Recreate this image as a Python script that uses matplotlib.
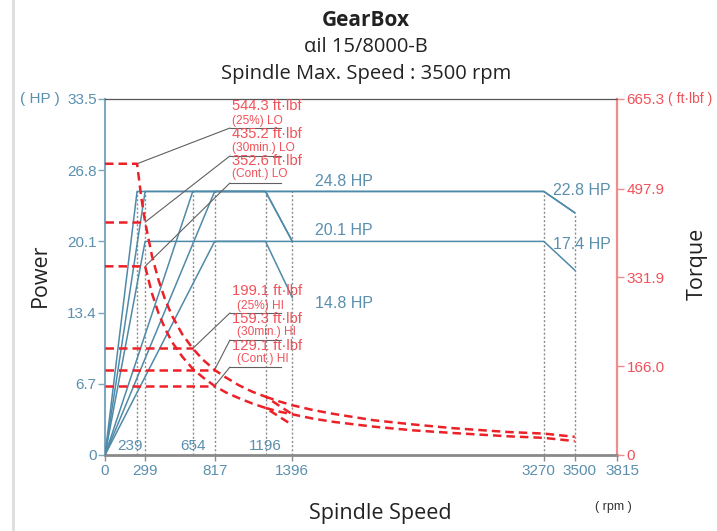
import matplotlib
matplotlib.use("Agg")
import matplotlib.pyplot as plt
import matplotlib.transforms as mtransforms
from matplotlib.lines import Line2D

# ---- data ----
x_ticks = [0, 299, 817, 1396, 3270, 3500, 3815]
x_ticks_inner = [239, 654, 1196]
power_ticks = [0, 6.7, 13.4, 20.1, 26.8, 33.5]
torque_ticks = [0, 166.0, 331.9, 497.9, 665.3]

# power curves (rpm, HP)
lo_25_rpm = [0, 239, 1196, 1396]
lo_25_hp = [0, 24.8, 24.8, 20.1]
lo_30_rpm = [0, 299, 1196, 1396]
lo_30_hp = [0, 24.8, 24.8, 20.1]
lo_cont_rpm = [0, 299, 1196, 1396]
lo_cont_hp = [0, 20.1, 20.1, 14.8]
hi_25_rpm = [0, 654, 3270, 3500]
hi_25_hp = [0, 24.8, 24.8, 22.8]
hi_30_rpm = [0, 817, 3270, 3500]
hi_30_hp = [0, 24.8, 24.8, 22.8]
hi_cont_rpm = [0, 817, 3270, 3500]
hi_cont_hp = [0, 20.1, 20.1, 17.4]

# torque curves (rpm, ft-lbf); LO and HI share the same curve up to 1196 rpm
lo_25_t_rpm = [0, 239, 270, 299, 350, 400, 450, 500, 575, 654, 730, 817, 900, 1000, 1100, 1196, 1396]
lo_25_t = [544.3, 544.3, 482, 435.2, 372, 326, 289, 260, 226, 199, 178, 159, 145, 130, 118, 109, 76]
lo_30_t_rpm = [0, 299]
lo_30_t = [435.2, 435.2]
lo_cont_t_rpm = [0, 299, 350, 400, 450, 500, 575, 654, 730, 817, 900, 1000, 1100, 1196, 1396]
lo_cont_t = [352.6, 352.6, 302, 264, 235, 211, 184, 161, 145, 129, 117, 106, 96, 88, 56]
hi_25_t_rpm = [0, 654]
hi_25_t = [199.1, 199.1]
hi_30_t_rpm = [0, 817]
hi_30_t = [159.3, 159.3]
hi_cont_t_rpm = [0, 817]
hi_cont_t = [129.1, 129.1]
hi_tail_rpm = [1196, 1300, 1396, 1550, 1700, 2000, 2300, 2600, 3000, 3270, 3500]
hi_tail_t = [109, 100, 93, 84, 77, 65, 57, 50, 43, 40, 34]
hi_cont_tail_rpm = [1196, 1300, 1396, 1550, 1700, 2000, 2300, 2600, 3000, 3270, 3500]
hi_cont_tail_t = [88, 81, 76, 68, 62, 53, 46, 41, 35, 32, 26]

# dotted guide lines (rpm, HP top)
guide_rpm = [239, 299, 654, 817, 1196, 1396, 3270, 3500]
guide_hp = [24.8, 24.8, 24.8, 24.8, 24.8, 24.8, 24.8, 22.8]

# torque callouts: anchor point, value text, condition text
call_rpm = [239, 299, 299, 654, 817, 817]
call_t = [544.3, 435.2, 352.6, 199.1, 159.3, 129.1]
call_main = ["544.3 ft·lbf", "435.2 ft·lbf", "352.6 ft·lbf", "199.1 ft·lbf", "159.3 ft·lbf", "129.1 ft·lbf"]
call_sub = ["(25%) LO", "(30min.) LO", "(Cont.) LO", "(25%) HI", "(30min.) HI", "(Cont.) HI"]

# power labels
hp_labels = ["24.8 HP", "20.1 HP", "14.8 HP", "22.8 HP", "17.4 HP"]

BLUE = "#4f8aa8"
TICKBLUE = "#5a8fae"
RED = "#ec2128"
REDTXT = "#f0525a"
REDAX = "#f28c8c"
NUMFONT = "Liberation Sans"
LBLFONT = "Open Sans"

fig = plt.figure(figsize=(7.17, 5.31), dpi=100)
ax = fig.add_axes([105 / 717, 76 / 531, 512 / 717, 356 / 531])
ax2 = ax.twinx()

ax.set_xlim(0, 3815)
ax.set_ylim(0, 33.5)
ax2.set_ylim(0, 665.3)

# guides
for r, h in zip(guide_rpm, guide_hp):
    ax.plot([r, r], [0, h], color="#8c8c8c", lw=1.0, ls=(0, (1.5, 1.5)), zorder=1)

# power lines
for xs, ys in [(lo_25_rpm, lo_25_hp), (lo_30_rpm, lo_30_hp), (lo_cont_rpm, lo_cont_hp),
               (hi_25_rpm, hi_25_hp), (hi_30_rpm, hi_30_hp), (hi_cont_rpm, hi_cont_hp)]:
    ax.plot(xs, ys, color=BLUE, lw=1.1, zorder=3)

# torque lines
for xs, ys in [(lo_25_t_rpm, lo_25_t), (lo_30_t_rpm, lo_30_t), (lo_cont_t_rpm, lo_cont_t),
               (hi_25_t_rpm, hi_25_t), (hi_30_t_rpm, hi_30_t), (hi_cont_t_rpm, hi_cont_t),
               (hi_tail_rpm, hi_tail_t), (hi_cont_tail_rpm, hi_cont_tail_t)]:
    ax2.plot(xs, ys, color=RED, lw=1.8, dashes=(3.4, 2.0), zorder=4, clip_on=False)

# callouts
elbow_y = [0.9185, 0.840, 0.764, 0.399, 0.323, 0.247]
main_y = [0.979, 0.902, 0.826, 0.461, 0.382, 0.306]
sub_y = [0.939, 0.862, 0.789, 0.418, 0.345, 0.269]
for i in range(len(call_rpm)):
    ax2.annotate("", xy=(call_rpm[i], call_t[i]), xycoords="data",
                 xytext=(0.244, elbow_y[i]), textcoords="axes fraction",
                 arrowprops=dict(arrowstyle="-", color="#606060", lw=0.8, shrinkA=0, shrinkB=0))
    ax2.plot([0.244, 0.344], [elbow_y[i], elbow_y[i]], transform=ax2.transAxes,
             color="#606060", lw=0.8)
    ax2.text(0.249, main_y[i], call_main[i], transform=ax2.transAxes, color=REDTXT,
             fontsize=10.6, family=NUMFONT, ha="left", va="center")
    sx = 0.249 if i < 3 else 0.257
    ax2.text(sx, sub_y[i], call_sub[i], transform=ax2.transAxes, color=REDTXT,
             fontsize=8.6, family=NUMFONT, ha="left", va="center")

# power labels
hp_pos = [(1565, 25.7), (1565, 21.1), (1565, 14.3), (3338, 24.9), (3338, 19.8)]
for t, (px, py) in zip(hp_labels, hp_pos):
    ax.text(px, py, t, color=TICKBLUE, fontsize=11.5, family=NUMFONT, ha="left", va="center")

# axes styling
for s in ["top", "bottom", "left", "right"]:
    ax2.spines[s].set_visible(False)
ax.spines["top"].set_color("#555555")
ax.spines["top"].set_linewidth(0.9)
ax.spines["bottom"].set_color("#8a8a8a")
ax.spines["bottom"].set_linewidth(2.0)
ax.spines["left"].set_color("#7fa8bf")
ax.spines["left"].set_linewidth(1.5)
ax.spines["right"].set_color(REDAX)
ax.spines["right"].set_linewidth(1.6)

ax.set_xticks(x_ticks)
ax.set_xticklabels([])
ax.tick_params(axis="x", direction="out", length=4, width=1, color="#8a8a8a")
xlab_shift = {3270: -5, 3500: 5, 3815: 5}
blend = mtransforms.blended_transform_factory(ax.transData, ax.transAxes)
for r in x_ticks:
    tr = mtransforms.offset_copy(blend, fig=fig, x=xlab_shift.get(r, 0), y=-9, units="dots")
    ax.text(r, 0, str(r), transform=tr, color=TICKBLUE, fontsize=11, family=NUMFONT,
            ha="center", va="top")
inner_shift = {239: -7}
for r in x_ticks_inner:
    tr = mtransforms.offset_copy(blend, fig=fig, x=inner_shift.get(r, 0), y=9, units="dots")
    ax.text(r, 0, str(r), transform=tr, color=TICKBLUE, fontsize=11, family=NUMFONT,
            ha="center", va="center")

ax.set_yticks(power_ticks)
ax.set_yticklabels(["0" if v == 0 else f"{v:.1f}" for v in power_ticks],
                   color=TICKBLUE, fontsize=11, family=NUMFONT)
ax.tick_params(axis="y", direction="out", length=5, width=1, color="#7fa8bf", pad=1)

ax2.set_yticks(torque_ticks)
ax2.set_yticklabels(["0" if v == 0 else f"{v:.1f}" for v in torque_ticks],
                    color=REDTXT, fontsize=11, family=NUMFONT)
ax2.tick_params(axis="y", direction="out", length=5, width=1, color=REDAX, pad=2)

# unit labels
ax.text(-0.088, 1.0, "( HP )", transform=ax.transAxes, color=TICKBLUE, fontsize=11,
        family=NUMFONT, ha="right", va="center")
ax2.text(1.0996, 1.0, "( ft·lbf )", transform=ax2.transAxes, color=REDTXT, fontsize=10,
         family=NUMFONT, ha="left", va="center")
fig.text(613 / 717, 1 - 507 / 531, "( rpm )", color="#333333", fontsize=9,
         family=NUMFONT, ha="center", va="center")

fig.text(40 / 717, 1 - 275 / 531, "Power", rotation=90, fontsize=15.5, family=LBLFONT,
         color="#222222", ha="center", va="center")
fig.text(697 / 717, 1 - 264 / 531, "Torque", rotation=90, fontsize=15.5, family=LBLFONT,
         color="#222222", ha="center", va="center")
fig.text(380 / 717, 1 - 513 / 531, "Spindle Speed", fontsize=15.5, family=LBLFONT,
         color="#222222", ha="center", va="center")

fig.text(0.51, 1 - 20 / 531, "GearBox", fontsize=15, fontweight="bold", family=LBLFONT,
         color="#222222", ha="center", va="center")
fig.text(0.51, 1 - 47 / 531, "αil 15/8000-B", fontsize=14.5, family=LBLFONT,
         color="#222222", ha="center", va="center")
fig.text(0.51, 1 - 74 / 531, "Spindle Max. Speed : 3500 rpm", fontsize=14.5, family=LBLFONT,
         color="#222222", ha="center", va="center")

# light frame line at left edge
fig.add_artist(Line2D([13 / 717, 13 / 717], [0, 1], color="#dddddd", lw=2))

fig.savefig("out.png", dpi=100)
